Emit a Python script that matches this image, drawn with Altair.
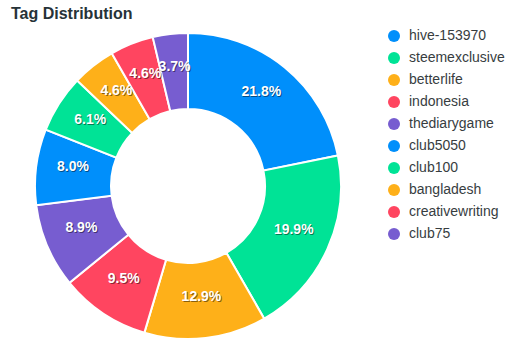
import altair as alt
import pandas as pd

tags = ["hive-153970", "steemexclusive", "betterlife", "indonesia", "thediarygame",
        "club5050", "club100", "bangladesh", "creativewriting", "club75"]
values = [21.8, 19.9, 12.9, 9.5, 8.9, 8.0, 6.1, 4.6, 4.6, 3.7]
colors = ["#008FFB", "#00E396", "#FEB019", "#FF4560", "#775DD0",
          "#008FFB", "#00E396", "#FEB019", "#FF4560", "#775DD0"]
title_text = "Tag Distribution"

df = pd.DataFrame({
    "tag": tags,
    "value": values,
    "idx": list(range(len(tags))),
    "label": [f"{v:.1f}%" for v in values],
})

CX, CY = 188, 186
FONT = "Liberation Sans"

base = alt.Chart(df).encode(
    theta=alt.Theta("value:Q", stack=True),
    order=alt.Order("idx:Q"),
    x=alt.value(CX),
    y=alt.value(CY),
)

arcs = base.mark_arc(outerRadius=153, innerRadius=77, stroke="white", strokeWidth=2).encode(
    color=alt.Color(
        "tag:N",
        scale=alt.Scale(domain=tags, range=colors),
        sort=tags,
        legend=alt.Legend(
            title=None,
            orient="none",
            legendX=387,
            legendY=29,
            padding=0,
            symbolType="circle",
            symbolSize=144,
            symbolStrokeWidth=0,
            labelFont=FONT,
            labelFontSize=14,
            labelColor="#373d3f",
            labelOffset=8,
            rowPadding=8,
            labelLimit=200,
        ),
    )
)

shadow = base.mark_text(radius=116, font=FONT, fontSize=14, fontWeight="bold",
                        color="#000000", opacity=0.45, dx=1, dy=-3).encode(text="label:N")
labels = base.mark_text(radius=116, font=FONT, fontSize=14, fontWeight="bold",
                        color="#ffffff", dy=-4).encode(text="label:N")

title = alt.Chart(pd.DataFrame({"t": [title_text]})).mark_text(
    font=FONT, fontSize=16, fontWeight="bold", color="#263238", align="left", baseline="alphabetic"
).encode(text="t:N", x=alt.value(11), y=alt.value(18.5))

chart = alt.layer(arcs, shadow, labels, title).properties(
    width=523, height=352, autosize="none", padding=0
).configure_view(stroke=None)

chart.save("out.html", embed_options={"renderer": "svg", "actions": False})
